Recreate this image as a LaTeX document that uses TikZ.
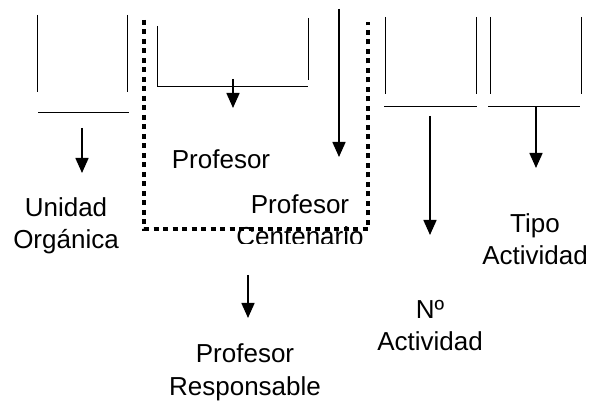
\documentclass[tikz,border=0pt]{standalone}
\usepackage{fontspec}
\setmainfont{Liberation Sans}
\usetikzlibrary{arrows.meta}
\tikzset{
  flecha/.style={line width=1.6pt,-{Triangle[width=13pt,length=15pt]}},
  rotulo/.style={inner sep=0pt,anchor=base,align=center,font=\fontsize{26}{32.5}\selectfont},
  borde/.style={line width=1pt},
  grupo/.style={line width=4.5pt,dash pattern=on 5pt off 4.5pt}
}
\begin{document}
\begin{tikzpicture}[x=1pt,y=1pt,yscale=-1,xscale=1]
                \useasboundingbox (0,0) rectangle (590,401);
                % tablas
                \draw [borde]   (37,15) -- (37,92) ;
                \draw [borde]   (127,15) -- (127,92) ;
                \draw [borde]   (38,113) -- (129,113) ;
                \draw [borde]   (157,26) -- (157,87) -- (308,87) ;
                \draw [borde]   (308,18) -- (308,80) ;
                \draw [borde]   (385,17) -- (385,94) ;
                \draw [borde]   (476,17) -- (476,94) ;
                \draw [borde]   (384,107) -- (477,107) ;
                \draw [borde]   (490,17) -- (490,94) ;
                \draw [borde]   (581,17) -- (581,94) ;
                \draw [borde]   (488,107) -- (580,107) ;
                % rotulos (base = ultima linea)
                \node (uo) [rotulo] at (66,249) {Unidad\\Orgánica};
                \node (prof) [rotulo] at (221,169) {Profesor};
                \begin{scope}
                  \clip (230,180) rectangle (380,244);
                  \node (pc) [rotulo] at (300,246) {Profesor\\Centenario};
                \end{scope}
                \node (ta) [rotulo] at (535,265) {Tipo\\Actividad};
                \node (na) [rotulo] at (430,351) {Nº\\Actividad};
                \node (pr) [rotulo] at (245,395.5) {Profesor\\Responsable};
                % grupo punteado, encima del texto
                \draw [grupo]   (144,20) -- (144,229) -- (368,229) -- (368,22) ;
                % flechas
                \coordinate (uo-a) at (82,128);   \coordinate (uo-b) at (82,173);
                \coordinate (prof-a) at (233,79); \coordinate (prof-b) at (233,108);
                \coordinate (pc-a) at (339,9);    \coordinate (pc-b) at (339,157);
                \coordinate (na-a) at (430,116);  \coordinate (na-b) at (430,235);
                \coordinate (ta-a) at (536,107);  \coordinate (ta-b) at (536,168);
                \coordinate (pr-a) at (248,275);  \coordinate (pr-b) at (248,318);
                \draw [flecha] (uo-a) -- (uo-b) ;
                \draw [flecha] (prof-a) -- (prof-b) ;
                \draw [flecha] (pc-a) -- (pc-b) ;
                \draw [flecha] (na-a) -- (na-b) ;
                \draw [flecha] (ta-a) -- (ta-b) ;
                \draw [flecha] (pr-a) -- (pr-b) ;
            \end{tikzpicture}
\end{document}
